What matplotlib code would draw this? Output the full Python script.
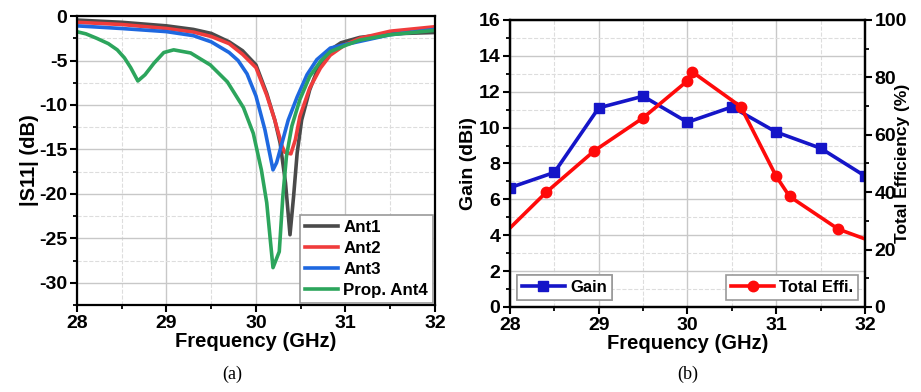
import matplotlib.pyplot as plt
from matplotlib.ticker import MultipleLocator

plt.rcParams['font.family'] = ['Liberation Sans', 'DejaVu Sans']
plt.rcParams['font.weight'] = 'bold'
plt.rcParams['axes.unicode_minus'] = False

# (a) |S11| curves
f_ant1 = [28, 28.5, 29, 29.3, 29.5, 29.7, 29.85, 30.0, 30.12, 30.21, 30.27, 30.33,
          30.38, 30.42, 30.46, 30.51, 30.6, 30.7, 30.83, 30.95, 31.16, 31.5, 32]
s_ant1 = [-0.45, -0.7, -1.1, -1.5, -1.95, -2.9, -3.9, -5.5, -8.7, -11.7, -14.3, -18.8,
          -24.6, -20.3, -15.4, -11.7, -8.3, -5.7, -3.8, -3.0, -2.4, -2.0, -1.85]

f_ant2 = [28, 28.5, 29, 29.3, 29.5, 29.7, 29.85, 30.0, 30.12, 30.21, 30.29, 30.32,
          30.39, 30.44, 30.49, 30.6, 30.72, 30.83, 31.0, 31.16, 31.5, 32]
s_ant2 = [-0.7, -0.95, -1.4, -1.8, -2.3, -3.1, -4.3, -5.8, -8.9, -11.7, -14.6, -15.3,
          -15.5, -13.9, -11.3, -8.1, -5.85, -4.4, -3.2, -2.5, -1.7, -1.2]

f_ant3 = [28, 28.5, 29, 29.3, 29.5, 29.7, 29.8, 29.9, 30.0, 30.1, 30.19, 30.23,
          30.29, 30.36, 30.46, 30.57, 30.68, 30.83, 31.0, 31.5, 32]
s_ant3 = [-1.1, -1.4, -1.75, -2.2, -2.9, -4.1, -5.0, -6.5, -9.0, -12.8, -17.3, -16.5,
          -14.3, -11.7, -9.1, -6.6, -4.9, -3.6, -3.2, -2.1, -1.5]

f_ant4 = [28, 28.1, 28.22, 28.35, 28.45, 28.53, 28.6, 28.68, 28.76, 28.86, 28.97, 29.08,
          29.27, 29.49, 29.68, 29.86, 29.97, 30.06, 30.12, 30.16, 30.19, 30.26, 30.3,
          30.34, 30.4, 30.49, 30.6, 30.72, 30.83, 31.0, 31.16, 31.5, 32]
s_ant4 = [-1.76, -2.0, -2.5, -3.1, -3.8, -4.7, -5.8, -7.3, -6.6, -5.3, -4.1, -3.8,
          -4.15, -5.5, -7.4, -10.3, -13.2, -17.3, -21.0, -25.2, -28.3, -26.5, -20.3,
          -15.8, -12.4, -9.4, -6.8, -5.1, -4.0, -3.3, -2.7, -2.1, -1.6]

# (b) gain and efficiency
f_gain = [28, 28.5, 29, 29.5, 30, 30.5, 31, 31.5, 32]
gain = [6.65, 7.5, 11.1, 11.75, 10.3, 11.15, 9.75, 8.85, 7.3]

f_eff = [28, 28.41, 28.95, 29.5, 30.0, 30.05, 30.6, 31.0, 31.15, 31.7, 32]
eff = [27.5, 40.0, 54.4, 65.9, 78.8, 82.0, 69.8, 45.5, 38.5, 27.1, 23.7]

fig = plt.figure(figsize=(9.21, 3.92), dpi=100)


def style_ticks(ax):
    for sp in ax.spines.values():
        sp.set_linewidth(1.6)
    ax.tick_params(which='major', direction='out', length=5, width=1.5, labelsize=14, pad=2)
    ax.tick_params(which='minor', direction='out', length=3, width=1.3)


def style_axes(ax):
    style_ticks(ax)
    ax.tick_params(top=False, right=False, which='both')
    ax.grid(which='major', color='#c8c8c8', lw=1.0)
    ax.grid(which='minor', color='#dddddd', lw=0.8, ls='--')
    ax.set_axisbelow(True)


# ---- left panel
ax1 = fig.add_axes([0.0836, 0.222, 0.3887, 0.737])
ax1.plot(f_ant1, s_ant1, color='#4a4a4a', lw=2.6, label='Ant1')
ax1.plot(f_ant2, s_ant2, color='#f03c3c', lw=2.6, label='Ant2')
ax1.plot(f_ant3, s_ant3, color='#1e68e0', lw=2.6, label='Ant3')
ax1.plot(f_ant4, s_ant4, color='#2ca55c', lw=2.6, label='Prop. Ant4')
ax1.set_xlim(28, 32)
ax1.set_ylim(-32.5, 0)
ax1.xaxis.set_major_locator(MultipleLocator(1))
ax1.xaxis.set_minor_locator(MultipleLocator(0.5))
ax1.yaxis.set_major_locator(MultipleLocator(5))
ax1.yaxis.set_minor_locator(MultipleLocator(2.5))
style_axes(ax1)
ax1.set_xlabel('Frequency (GHz)', fontsize=14.5, fontweight='bold', labelpad=0)
ax1.set_ylabel('|S11| (dB)', fontsize=14.5, fontweight='bold', labelpad=0)
leg = ax1.legend(loc='lower right', fontsize=12.2, handlelength=1.9, handletextpad=0.35,
                 labelspacing=0.35, borderaxespad=0.1, borderpad=0.3, fancybox=False,
                 edgecolor='#999999', framealpha=1)
leg.get_frame().set_linewidth(1.2)

# ---- right panel
ax2 = fig.add_axes([0.5537, 0.217, 0.3855, 0.732])
ax3 = ax2.twinx()
ln1, = ax2.plot(f_gain, gain, color='#1515c8', lw=2.6, marker='s', ms=7, label='Gain')
ln2, = ax3.plot(f_eff, eff, color='#ff0a0a', lw=2.6, marker='o', ms=7.5,
                markevery=list(range(1, len(f_eff) - 1)), label='Total Effi.')
ax2.set_xlim(28, 32)
ax2.set_ylim(0, 16)
ax3.set_ylim(0, 100)
ax2.xaxis.set_major_locator(MultipleLocator(1))
ax2.xaxis.set_minor_locator(MultipleLocator(0.5))
ax2.yaxis.set_major_locator(MultipleLocator(2))
ax2.yaxis.set_minor_locator(MultipleLocator(1))
ax3.yaxis.set_major_locator(MultipleLocator(20))
ax3.yaxis.set_minor_locator(MultipleLocator(10))
style_axes(ax2)
style_ticks(ax3)
ax2.set_xlabel('Frequency (GHz)', fontsize=14.5, fontweight='bold', labelpad=0)
ax2.set_ylabel('Gain (dBi)', fontsize=14, fontweight='bold', labelpad=1)
ax3.set_ylabel('Total Efficiency (%)', fontsize=12.5, fontweight='bold', labelpad=-9)

lg1 = ax2.legend(handles=[ln1], loc='lower left', fontsize=12, handlelength=2.6,
                 handletextpad=0.3, borderaxespad=0.4, borderpad=0.3, fancybox=False,
                 edgecolor='#999999', framealpha=1)
lg1.get_frame().set_linewidth(1.2)
ax2.add_artist(lg1)
lg2 = ax3.legend(handles=[ln2], loc='lower right', fontsize=12, handlelength=2.6,
                 handletextpad=0.3, borderaxespad=0.4, borderpad=0.3, fancybox=False,
                 edgecolor='#999999', framealpha=1)
lg2.get_frame().set_linewidth(1.2)

# captions
fig.text(0.252, 0.046, '(a)', fontsize=13, fontweight='normal', va='center',
         family=['Liberation Serif', 'DejaVu Serif'], ha='center')
fig.text(0.747, 0.046, '(b)', fontsize=13, fontweight='normal', va='center',
         family=['Liberation Serif', 'DejaVu Serif'], ha='center')

# make sure the tick labels come out bold
fig.canvas.draw()
for ax in (ax1, ax2, ax3):
    for lab in ax.get_xticklabels() + ax.get_yticklabels():
        lab.set_fontweight('bold')

fig.savefig('out.png', dpi=100)
